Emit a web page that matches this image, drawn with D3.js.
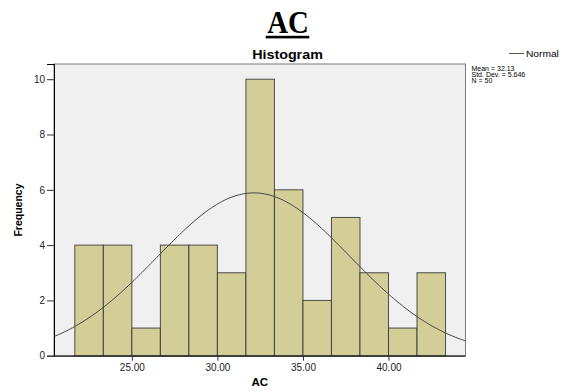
<!DOCTYPE html>
<html><head><meta charset="utf-8">
<script src="https://cdn.jsdelivr.net/npm/d3@7"></script>
<style>body{margin:0;background:#fff}svg{display:block}</style>
</head><body>
<svg id="c" width="561" height="390"></svg>
<script>
// Data
const binEdges = [21.6667,23.3333,25,26.6667,28.3333,30,31.6667,33.3333,35,36.6667,38.3333,40,41.6667,43.3333];
const counts = [4,4,1,4,4,3,10,6,2,5,3,1,3];
const xTicks = [25,30,35,40];
const xTickLabels = ["25.00","30.00","35.00","40.00"];
const yTicks = [0,2,4,6,8,10];
const stats = {mean:32.13, sd:5.646, n:50};
const statLines = ["Mean = 32.13","Std. Dev. = 5.646","N = 50"];

const svg = d3.select("#c");
const L=54, R=465.5, T=64, B=355.7;
const x = d3.scaleLinear().domain([20.45,44.5]).range([L,R]);
const y = d3.scaleLinear().domain([0,10.55]).range([B,T]);
const sans = "Arial, 'Liberation Sans', Helvetica, sans-serif";

function txt(str, tx, ty, size, opts={}) {
  const g = svg.append("g").attr("transform", `translate(${tx},${ty}) ${opts.rot?`rotate(${opts.rot})`:''} scale(${opts.sx||1},1)`);
  return g.append("text").text(str)
    .attr("font-family", opts.family||sans).attr("font-size", size)
    .attr("font-weight", opts.bold?"bold":"normal")
    .attr("text-anchor", opts.anchor||"start")
    .attr("fill", opts.fill||"#000");
}

// Title
txt("AC", 288, 33, 31, {family:"'Liberation Serif','Times New Roman',serif", bold:true, anchor:"middle", sx:0.93});
svg.append("rect").attr("x",265.7).attr("y",35.8).attr("width",43.6).attr("height",2.6).attr("fill","#000");

// Histogram subtitle
txt("Histogram", 287.5, 59, 13, {bold:true, anchor:"middle", sx:1.1});

// Plot background
svg.append("rect").attr("x",L).attr("y",T).attr("width",R-L).attr("height",B-T)
  .attr("fill","#f0f0f0").attr("stroke","#7a7a7a").attr("stroke-width",1);

// Bars
svg.append("g").selectAll("rect").data(counts).join("rect")
  .attr("x",(d,i)=>x(binEdges[i]))
  .attr("width",(d,i)=>x(binEdges[i+1])-x(binEdges[i]))
  .attr("y",d=>y(d))
  .attr("height",d=>y(0)-y(d))
  .attr("fill","#d3ce97")
  .attr("stroke","#333").attr("stroke-opacity",0.85).attr("stroke-width",1);

// Normal curve
const binW = binEdges[1]-binEdges[0];
const pdf = v => stats.n*binW/(stats.sd*Math.sqrt(2*Math.PI))*Math.exp(-0.5*Math.pow((v-stats.mean)/stats.sd,2));
const xs = d3.range(0,201).map(i=>20.45+(44.5-20.45)*i/200);
svg.append("path").datum(xs)
  .attr("d", d3.line().x(v=>x(v)).y(v=>y(pdf(v))))
  .attr("fill","none").attr("stroke","#444").attr("stroke-width",1);

// Axes
const yAxis = d3.axisLeft(y).tickValues(yTicks).tickSize(7).tickPadding(2).tickFormat(d3.format("d"));
const gy = svg.append("g").attr("transform",`translate(${L},0)`).call(yAxis);
gy.select(".domain").attr("stroke","#000");
gy.selectAll("line").attr("stroke","#333");
gy.selectAll("text").attr("font-family",sans).attr("font-size",10).attr("fill","#222");

const xAxis = d3.axisBottom(x).tickValues(xTicks).tickSize(5).tickPadding(3).tickFormat((d,i)=>xTickLabels[i]);
const gx = svg.append("g").attr("transform",`translate(0,${B})`).call(xAxis);
gx.select(".domain").attr("stroke","#000").attr("d",`M${L},0.5H${R}`);
gx.selectAll("line").attr("stroke","#333");
gx.selectAll("text").attr("font-family",sans).attr("font-size",10).attr("fill","#222");

// Axis titles
txt("AC", (L+R)/2, 386, 11, {bold:true, anchor:"middle", sx:1.05});
txt("Frequency", 21.5, 210, 10.5, {bold:true, anchor:"middle", rot:-90});

// Legend
svg.append("line").attr("x1",509).attr("x2",524).attr("y1",53.5).attr("y2",53.5).attr("stroke","#555").attr("stroke-width",1);
txt("Normal", 526, 57, 8.5, {sx:1.2});

// Stats
statLines.forEach((s,i)=>txt(s, 471.5, 70.5+i*6, 7, {}));
</script>
</body></html>
